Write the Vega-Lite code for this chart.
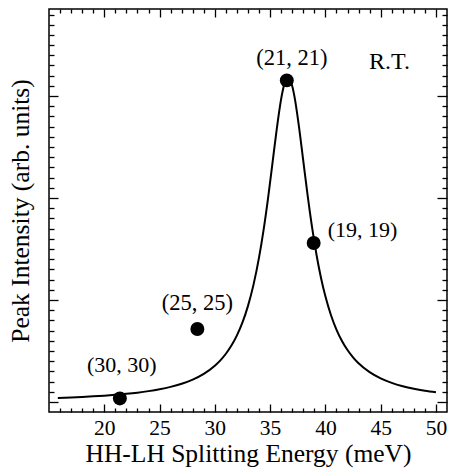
{
  "$schema": "https://vega.github.io/schema/vega-lite/v6.json",
  "width": 398,
  "height": 403,
  "autosize": "none",
  "padding": {"left": 49, "top": 9, "right": 3, "bottom": 59},
  "background": "white",
  "config": {
    "view": {"stroke": "black", "strokeWidth": 1.5},
    "font": "Liberation Serif",
    "axis": {
      "domain": false,
      "grid": false,
      "tickColor": "black",
      "tickWidth": 1.3,
      "labelColor": "black",
      "labelFont": "Liberation Serif",
      "labelFontSize": 21.5,
      "titleFont": "Liberation Serif",
      "titleFontSize": 25.5,
      "titleFontWeight": "normal",
      "titleColor": "black"
    },
    "text": {"font": "Liberation Serif"}
  },
  "datasets": {
    "curve": [
      {"x": 15.8, "y": 0.0400}, {"x": 17, "y": 0.0450}, {"x": 18, "y": 0.0499}, {"x": 19, "y": 0.0556},
      {"x": 20, "y": 0.0623}, {"x": 21, "y": 0.0704}, {"x": 22, "y": 0.0801}, {"x": 23, "y": 0.0919},
      {"x": 24, "y": 0.1066}, {"x": 25, "y": 0.1250}, {"x": 26, "y": 0.1485}, {"x": 27, "y": 0.1791},
      {"x": 28, "y": 0.2201}, {"x": 29, "y": 0.2763}, {"x": 30, "y": 0.3559}, {"x": 30.5, "y": 0.4086},
      {"x": 31, "y": 0.4733}, {"x": 31.5, "y": 0.5533}, {"x": 32, "y": 0.6536}, {"x": 32.5, "y": 0.7806},
      {"x": 33, "y": 0.9428}, {"x": 33.5, "y": 1.1510}, {"x": 34, "y": 1.4178}, {"x": 34.4, "y": 1.6804},
      {"x": 34.8, "y": 1.9877}, {"x": 35.2, "y": 2.3295}, {"x": 35.6, "y": 2.6759}, {"x": 36.0, "y": 2.9731},
      {"x": 36.3, "y": 3.1221}, {"x": 36.62, "y": 3.18}, {"x": 36.9, "y": 3.1355}, {"x": 37.2, "y": 2.9975},
      {"x": 37.6, "y": 2.7089}, {"x": 38.0, "y": 2.3647}, {"x": 38.4, "y": 2.0207}, {"x": 38.8, "y": 1.7091},
      {"x": 39.2, "y": 1.4420}, {"x": 39.6, "y": 1.2193}, {"x": 40, "y": 1.0363}, {"x": 40.5, "y": 0.8535},
      {"x": 41, "y": 0.7108}, {"x": 41.5, "y": 0.5986}, {"x": 42, "y": 0.5095}, {"x": 42.5, "y": 0.4380},
      {"x": 43, "y": 0.3799}, {"x": 44, "y": 0.2928}, {"x": 45, "y": 0.2318}, {"x": 46, "y": 0.1878},
      {"x": 47, "y": 0.1550}, {"x": 48, "y": 0.1301}, {"x": 49, "y": 0.1106}, {"x": 50, "y": 0.0952}
    ],
    "points": [
      {"x": 36.51, "y": 3.154, "label": "(21, 21)"},
      {"x": 38.94, "y": 1.559, "label": "(19, 19)"},
      {"x": 28.42, "y": 0.716, "label": "(25, 25)"},
      {"x": 21.41, "y": 0.035, "label": "(30, 30)"}
    ],
    "notes": [
      {"x": 45.8, "y": 3.27, "label": "R.T."}
    ]
  },
  "layer": [
    {
      "data": {"name": "curve"},
      "mark": {"type": "line", "color": "black", "strokeWidth": 2, "interpolate": "monotone"},
      "encoding": {
        "x": {
          "field": "x", "type": "quantitative",
          "scale": {"domain": [15, 51], "nice": false, "zero": false},
          "axis": {
            "orient": "bottom",
            "title": "HH-LH Splitting Energy (meV)",
            "values": [16,17,18,19,20,21,22,23,24,25,26,27,28,29,30,31,32,33,34,35,36,37,38,39,40,41,42,43,44,45,46,47,48,49,50],
            "tickSize": {"condition": {"test": "datum.value % 5 === 0", "value": -8}, "value": -4},
            "labelExpr": "datum.value % 5 === 0 ? datum.label : ''",
            "labelPadding": 13,
            "titlePadding": 3
          }
        },
        "y": {
          "field": "y", "type": "quantitative",
          "scale": {"domain": [-0.098, 3.854], "nice": false, "zero": false},
          "axis": {
            "orient": "left",
            "title": "Peak Intensity (arb. units)",
            "values": [0,0.1,0.2,0.3,0.4,0.5,0.6,0.7,0.8,0.9,1,1.1,1.2,1.3,1.4,1.5,1.6,1.7,1.8,1.9,2,2.1,2.2,2.3,2.4,2.5,2.6,2.7,2.8,2.9,3,3.1,3.2,3.3,3.4,3.5,3.6,3.7,3.8],
            "tickSize": {"condition": {"test": "abs(datum.value - round(datum.value)) < 0.001", "value": -9}, "value": -5},
            "labels": false,
            "titlePadding": 15
          }
        }
      }
    },
    {
      "data": {"name": "points"},
      "mark": {"type": "point", "filled": true, "color": "black", "size": 195, "opacity": 1},
      "encoding": {
        "x": {
          "field": "x", "type": "quantitative",
          "scale": {"domain": [15, 51], "nice": false, "zero": false},
          "axis": {
            "orient": "top",
            "title": null,
            "labels": false,
            "values": [16,17,18,19,20,21,22,23,24,25,26,27,28,29,30,31,32,33,34,35,36,37,38,39,40,41,42,43,44,45,46,47,48,49,50],
            "tickSize": {"condition": {"test": "datum.value % 5 === 0", "value": -8}, "value": -4}
          }
        },
        "y": {
          "field": "y", "type": "quantitative",
          "scale": {"domain": [-0.098, 3.854], "nice": false, "zero": false},
          "axis": {
            "orient": "right",
            "title": null,
            "labels": false,
            "values": [0,0.1,0.2,0.3,0.4,0.5,0.6,0.7,0.8,0.9,1,1.1,1.2,1.3,1.4,1.5,1.6,1.7,1.8,1.9,2,2.1,2.2,2.3,2.4,2.5,2.6,2.7,2.8,2.9,3,3.1,3.2,3.3,3.4,3.5,3.6,3.7,3.8],
            "tickSize": {"condition": {"test": "abs(datum.value - round(datum.value)) < 0.001", "value": -10}, "value": -5}
          }
        }
      }
    },
    {
      "data": {"name": "points"},
      "transform": [{"filter": "datum.label === '(21, 21)'"}],
      "mark": {"type": "text", "fontSize": 22.5, "color": "black", "align": "center", "baseline": "alphabetic", "dx": 5, "dy": -15},
      "encoding": {
        "x": {"field": "x", "type": "quantitative", "axis": null},
        "y": {"field": "y", "type": "quantitative", "axis": null},
        "text": {"field": "label"}
      }
    },
    {
      "data": {"name": "points"},
      "transform": [{"filter": "datum.label === '(19, 19)'"}],
      "mark": {"type": "text", "fontSize": 22, "color": "black", "align": "left", "baseline": "alphabetic", "dx": 14, "dy": -6},
      "encoding": {
        "x": {"field": "x", "type": "quantitative", "axis": null},
        "y": {"field": "y", "type": "quantitative", "axis": null},
        "text": {"field": "label"}
      }
    },
    {
      "data": {"name": "points"},
      "transform": [{"filter": "datum.label === '(25, 25)'"}],
      "mark": {"type": "text", "fontSize": 22.5, "color": "black", "align": "center", "baseline": "alphabetic", "dx": 0, "dy": -19},
      "encoding": {
        "x": {"field": "x", "type": "quantitative", "axis": null},
        "y": {"field": "y", "type": "quantitative", "axis": null},
        "text": {"field": "label"}
      }
    },
    {
      "data": {"name": "points"},
      "transform": [{"filter": "datum.label === '(30, 30)'"}],
      "mark": {"type": "text", "fontSize": 22, "color": "black", "align": "center", "baseline": "alphabetic", "dx": 2, "dy": -26},
      "encoding": {
        "x": {"field": "x", "type": "quantitative", "axis": null},
        "y": {"field": "y", "type": "quantitative", "axis": null},
        "text": {"field": "label"}
      }
    },
    {
      "data": {"name": "notes"},
      "mark": {"type": "text", "fontSize": 24, "color": "black", "align": "center", "baseline": "alphabetic"},
      "encoding": {
        "x": {"field": "x", "type": "quantitative", "axis": null},
        "y": {"field": "y", "type": "quantitative", "axis": null},
        "text": {"field": "label"}
      }
    }
  ],
  "resolve": {"axis": {"x": "independent", "y": "independent"}}
}
